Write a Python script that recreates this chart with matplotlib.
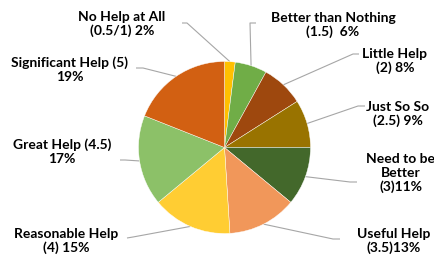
import numpy as np
import matplotlib
matplotlib.use("Agg")
import matplotlib.pyplot as plt

plt.rcParams['font.family'] = ['Lato', 'DejaVu Sans']

labels = ["No Help at All\n(0.5/1) 2%",
          "Better than Nothing\n(1.5)  6%",
          "Little Help\n(2) 8%",
          "Just So So\n(2.5) 9%",
          "Need to be\nBetter\n(3)11%",
          "Useful Help\n(3.5)13%",
          "Reasonable Help\n(4) 15%",
          "Great Help (4.5)\n17%",
          "Significant Help (5)\n19%"]
shares = [2, 6, 8, 9, 11, 13, 15, 17, 19]
colors = ["#FFC000", "#70AD47", "#9E480E", "#997300", "#43682B",
          "#F1975A", "#FFCD33", "#8CC168", "#D26012"]

# label centres and leader start/elbow points, in pixel coords (y down)
text_pos = [(122, 24), (333, 25), (395, 61), (398, 114), (401, 173),
            (394, 241), (66, 241), (62, 152), (70, 70)]
leader_start = [(182, 23), (256, 23), (359, 54), (365, 106), (357, 182),
                (340, 239), (127, 238), (120, 160), (136, 68)]
leader_elbow = [(187, 23), (250, 23), (353, 54), (358, 106), (350, 182),
                (333, 239), (133, 237), (125, 160), (143, 68)]

fig = plt.figure(figsize=(4.35, 2.62), dpi=100)
ax = fig.add_axes([0, 0, 1, 1])
ax.set_xlim(0, 435)
ax.set_ylim(262, 0)
ax.set_aspect('equal')
ax.axis('off')

cx, cy, r = 224.5, 147.5, 86
# y axis is flipped, so counterclock in data = clockwise on screen
wedges, _ = ax.pie(shares, colors=colors, center=(cx, cy), radius=r,
                   startangle=270, counterclock=True,
                   wedgeprops=dict(edgecolor='white', linewidth=0.3))
ax.set_xlim(0, 435)
ax.set_ylim(262, 0)

for w, lab, tp, ls, le in zip(wedges, labels, text_pos, leader_start, leader_elbow):
    mid = np.deg2rad((w.theta1 + w.theta2) / 2)
    ex = cx + r * np.cos(mid)
    ey = cy + r * np.sin(mid)
    ax.plot([ls[0], le[0], ex], [ls[1], le[1], ey], color='#A6A6A6', lw=0.8,
            zorder=0, solid_capstyle='butt')
    ax.text(tp[0], tp[1], lab, ha='center', va='center', fontsize=10,
            fontweight='bold', color='black', linespacing=1.2)

fig.savefig('out.png', dpi=100)
